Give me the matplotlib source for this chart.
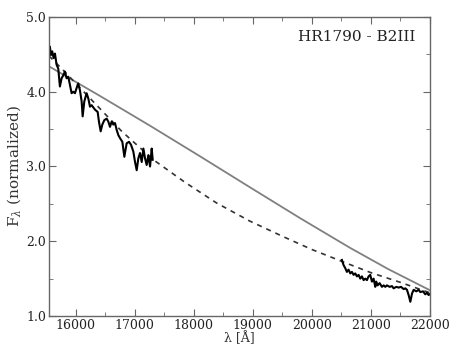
import matplotlib
matplotlib.use("Agg")
import matplotlib.pyplot as plt
from matplotlib.ticker import MultipleLocator, FormatStrFormatter

# observed spectrum, H band part
wl_h = [15567, 15584, 15606, 15629, 15652, 15680, 15708, 15736, 15765, 15793,
        15821, 15849, 15878, 15906, 15934, 15962, 15991, 16019, 16047, 16075,
        16104, 16121, 16149, 16188, 16217, 16245, 16273, 16330, 16375, 16397,
        16426, 16454, 16488, 16527, 16556, 16584, 16612, 16640, 16669, 16697,
        16725, 16753, 16793, 16827, 16866, 16906, 16940, 16979, 17008, 17036,
        17064, 17092, 17121, 17149, 17177, 17205, 17233, 17262, 17290, 17307]
flux_h = [4.60, 4.49, 4.54, 4.45, 4.51, 4.36, 4.31, 4.07, 4.18, 4.22,
          4.27, 4.18, 4.20, 4.09, 3.98, 4.00, 3.98, 4.05, 4.11, 4.02,
          3.87, 3.67, 3.87, 3.98, 3.91, 3.80, 3.82, 3.76, 3.73, 3.60,
          3.47, 3.56, 3.62, 3.64, 3.60, 3.53, 3.60, 3.56, 3.58, 3.49,
          3.42, 3.38, 3.33, 3.13, 3.31, 3.33, 3.29, 3.20, 3.06, 2.95,
          3.11, 3.18, 3.06, 3.24, 3.11, 3.02, 3.15, 3.00, 3.24, 3.09]

# observed spectrum, K band part
wl_k = [20510, 20539, 20567, 20595, 20623, 20652, 20680, 20708, 20736, 20765,
        20793, 20821, 20849, 20878, 20906, 20934, 20962, 20990, 21019, 21047,
        21075, 21092, 21115, 21149, 21188, 21217, 21245, 21273, 21318, 21358,
        21386, 21431, 21471, 21510, 21556, 21584, 21612, 21640, 21669, 21697,
        21725, 21770, 21810, 21838, 21883, 21922, 21951, 21979, 22007]
flux_k = [1.75, 1.68, 1.64, 1.59, 1.62, 1.57, 1.59, 1.55, 1.57, 1.53,
          1.55, 1.50, 1.53, 1.48, 1.50, 1.48, 1.53, 1.55, 1.46, 1.50,
          1.39, 1.46, 1.41, 1.44, 1.39, 1.41, 1.39, 1.41, 1.39, 1.40,
          1.37, 1.39, 1.38, 1.39, 1.36, 1.37, 1.35, 1.28, 1.19, 1.30,
          1.35, 1.33, 1.35, 1.32, 1.33, 1.29, 1.31, 1.28, 1.30]

# fitted model (dashed)
wl_fit = [15550, 15765, 16200, 16783, 17318, 17850, 18392, 18950, 19521, 20000, 20511, 21000, 21500, 22000]
flux_fit = [4.48, 4.31, 3.95, 3.47, 3.09, 2.79, 2.51, 2.27, 2.06, 1.89, 1.73, 1.58, 1.45, 1.31]

# reference continuum (grey)
wl_ref = [15550, 16400, 17262, 18100, 18957, 19800, 20652, 21300, 22000]
flux_ref = [4.34, 3.95, 3.545, 3.14, 2.72, 2.31, 1.91, 1.625, 1.345]

plt.rcParams["font.family"] = "DejaVu Serif"
plt.rcParams["mathtext.fontset"] = "dejavuserif"

fig = plt.figure(figsize=(4.53, 3.51), dpi=100)
ax = fig.add_axes([0.108, 0.0997, 0.841, 0.852])

ax.plot(wl_ref, flux_ref, color="#808080", lw=1.3)
ax.plot(wl_fit, flux_fit, color="#333333", lw=1.2, ls=(0, (3, 3)))
ax.plot(wl_h, flux_h, color="black", lw=1.5)
ax.plot(wl_k, flux_k, color="black", lw=1.5)

ax.set_xlim(15550, 22000)
ax.set_ylim(1.0, 5.0)
ax.xaxis.set_major_locator(MultipleLocator(1000))
ax.xaxis.set_minor_locator(MultipleLocator(500))
ax.yaxis.set_major_locator(MultipleLocator(1.0))
ax.yaxis.set_minor_locator(MultipleLocator(0.5))
ax.yaxis.set_major_formatter(FormatStrFormatter("%.1f"))

for s in ax.spines.values():
    s.set_color("#666666")
    s.set_linewidth(1.0)
ax.tick_params(which="both", direction="in", top=True, right=True,
               color="#666666", labelsize=9, labelcolor="#222222", pad=2)
ax.tick_params(which="major", length=5)
ax.tick_params(which="minor", length=3)

ax.set_xlabel("λ [Å]", fontsize=9, color="#333333", labelpad=0)
ax.set_ylabel(r"F$_\lambda$ (normalized)", fontsize=11, color="#333333", labelpad=2)
ax.text(0.963, 0.933, "HR1790 - B2III", transform=ax.transAxes, ha="right",
        va="center", fontsize=11, color="#222222")

fig.savefig("out.png", dpi=100)
